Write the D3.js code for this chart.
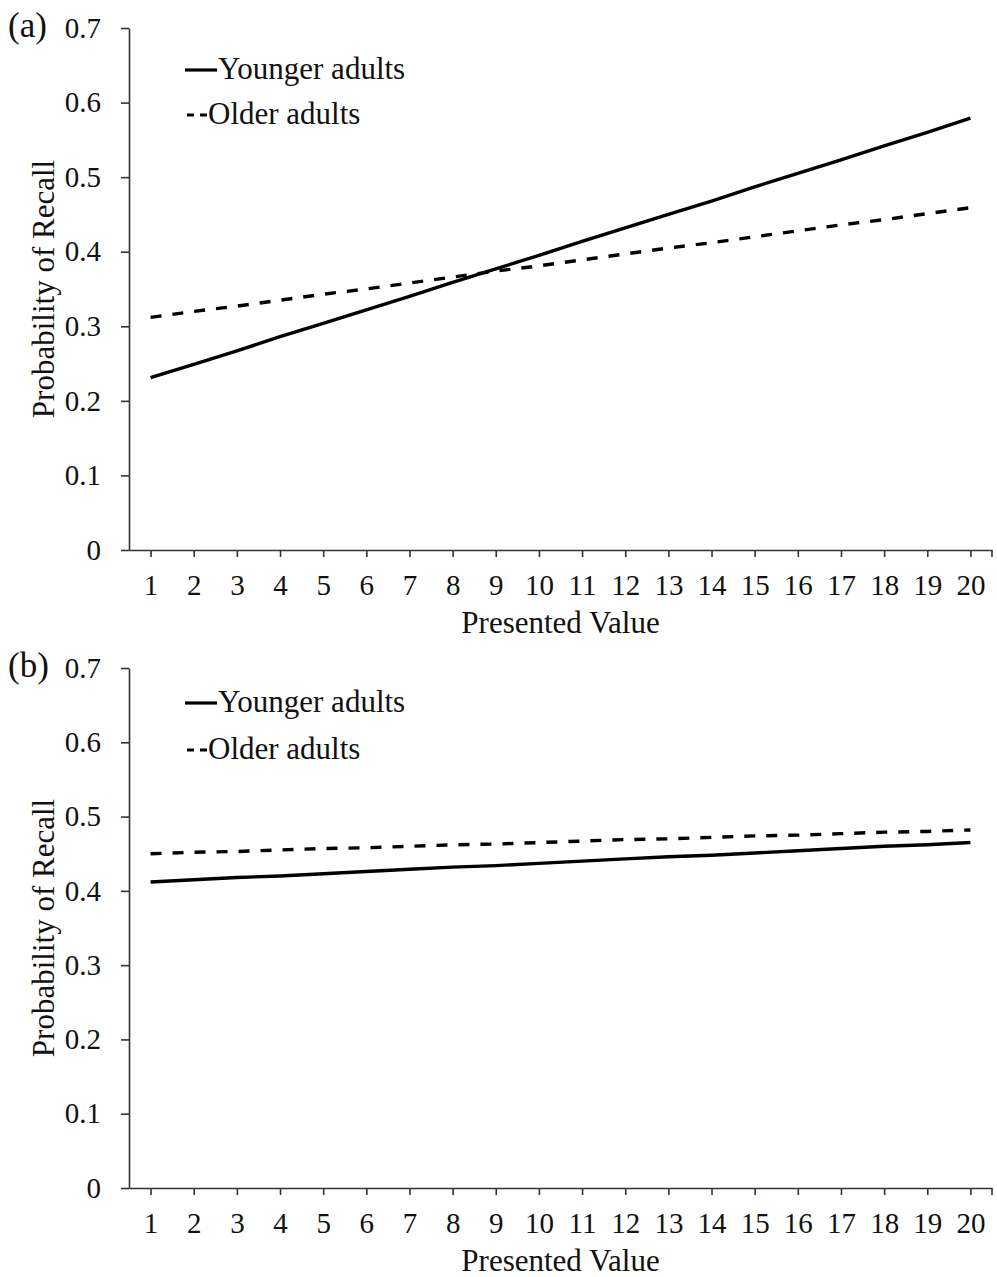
<!DOCTYPE html>
<html>
<head>
<meta charset="utf-8">
<script src="https://cdn.jsdelivr.net/npm/d3@7"></script>
<style>
  body { margin: 0; background: #fff; }
  text { font-family: "Liberation Serif", "Times New Roman", serif; fill: #111; }
</style>
</head>
<body>
<script>
const width = 997;
const height = 1277;

const presentedValues = d3.range(1, 21);
const yTicks = [0, 0.1, 0.2, 0.3, 0.4, 0.5, 0.6, 0.7];
const seriesNames = ["Younger adults", "Older adults"];

// panel (a)
const youngerA = [0.231, 0.249, 0.267, 0.286, 0.304, 0.322, 0.340, 0.359, 0.377, 0.395,
                  0.414, 0.432, 0.450, 0.468, 0.487, 0.505, 0.523, 0.542, 0.560, 0.579];
const olderA = [0.312, 0.320, 0.327, 0.335, 0.343, 0.350, 0.358, 0.366, 0.374, 0.381,
                0.389, 0.397, 0.405, 0.412, 0.420, 0.428, 0.436, 0.443, 0.451, 0.459];
// panel (b)
const youngerB = [0.412, 0.415, 0.418, 0.420, 0.423, 0.426, 0.429, 0.432, 0.434, 0.437,
                  0.440, 0.443, 0.446, 0.448, 0.451, 0.454, 0.457, 0.460, 0.462, 0.465];
const olderB = [0.450, 0.452, 0.453, 0.455, 0.457, 0.458, 0.460, 0.462, 0.463, 0.465,
                0.467, 0.469, 0.470, 0.472, 0.474, 0.475, 0.477, 0.479, 0.480, 0.482];

const svg = d3.select("body").append("svg")
  .attr("width", width)
  .attr("height", height);

const left = 129;
const right = 992;
const tickFont = 29;
const labelFont = 31;

function dibujarPanel(etiqueta, younger, older, top, bottom, legendY) {
  const g = svg.append("g");

  const x = d3.scalePoint().domain(presentedValues).range([left, right]).padding(0.5);
  const y = d3.scaleLinear().domain([0, 0.7]).range([bottom, top]);

  // y axis
  const ejeY = g.append("g")
    .attr("transform", `translate(${left},0)`)
    .call(d3.axisLeft(y).tickValues(yTicks).tickSize(8).tickSizeOuter(0)
      .tickFormat((d) => (d === 0 ? "0" : d3.format(".1f")(d))));
  ejeY.select(".domain").attr("stroke", "#333").attr("stroke-width", 1.6);
  ejeY.selectAll(".tick line").attr("stroke", "#333").attr("stroke-width", 1.6);
  ejeY.selectAll("text")
    .attr("x", -28)
    .attr("font-size", tickFont)
    .attr("font-family", "Liberation Serif")
    .attr("fill", "#111");

  // x axis
  const ejeX = g.append("g")
    .attr("transform", `translate(0,${bottom})`)
    .call(d3.axisBottom(x).tickSize(7).tickSizeOuter(0));
  ejeX.select(".domain").attr("stroke", "#333").attr("stroke-width", 1.6);
  ejeX.selectAll(".tick line").attr("stroke", "#333").attr("stroke-width", 1.6);
  ejeX.selectAll("text")
    .attr("y", 45)
    .attr("dy", 0)
    .attr("font-size", tickFont)
    .attr("font-family", "Liberation Serif")
    .attr("fill", "#111");
  ejeX.append("line")
    .attr("x1", right).attr("x2", right)
    .attr("y1", 0).attr("y2", 7)
    .attr("stroke", "#333").attr("stroke-width", 1.6);

  // titles
  g.append("text")
    .attr("x", (left + right) / 2)
    .attr("y", bottom + 83)
    .attr("text-anchor", "middle")
    .attr("font-size", labelFont)
    .text("Presented Value");

  g.append("text")
    .attr("transform", `translate(54,${(top + bottom) / 2}) rotate(-90)`)
    .attr("text-anchor", "middle")
    .attr("font-size", labelFont)
    .text("Probability of Recall");

  g.append("text")
    .attr("x", 8)
    .attr("y", top + 9)
    .attr("font-size", 35)
    .text(etiqueta);

  // lines
  const linea = d3.line()
    .x((d, i) => x(presentedValues[i]))
    .y((d) => y(d));

  g.append("path")
    .datum(younger)
    .attr("fill", "none")
    .attr("stroke", "#000")
    .attr("stroke-width", 3.4)
    .attr("d", linea);

  g.append("path")
    .datum(older)
    .attr("fill", "none")
    .attr("stroke", "#000")
    .attr("stroke-width", 3.4)
    .attr("stroke-dasharray", "11,11")
    .attr("d", linea);

  // legend
  const leyenda = g.append("g");
  leyenda.append("line")
    .attr("x1", 185).attr("x2", 217)
    .attr("y1", legendY[0]).attr("y2", legendY[0])
    .attr("stroke", "#000").attr("stroke-width", 3.2);
  leyenda.append("text")
    .attr("x", 218)
    .attr("y", legendY[0] + 9)
    .attr("font-size", labelFont)
    .text(seriesNames[0]);

  leyenda.append("line")
    .attr("x1", 187).attr("x2", 208)
    .attr("y1", legendY[1]).attr("y2", legendY[1])
    .attr("stroke", "#000").attr("stroke-width", 3.2)
    .attr("stroke-dasharray", "7,6");
  leyenda.append("text")
    .attr("x", 208)
    .attr("y", legendY[1] + 9)
    .attr("font-size", labelFont)
    .text(seriesNames[1]);
}

dibujarPanel("(a)", youngerA, olderA, 28, 550, [70, 115]);
dibujarPanel("(b)", youngerB, olderB, 668, 1188, [703, 750]);
</script>
</body>
</html>
